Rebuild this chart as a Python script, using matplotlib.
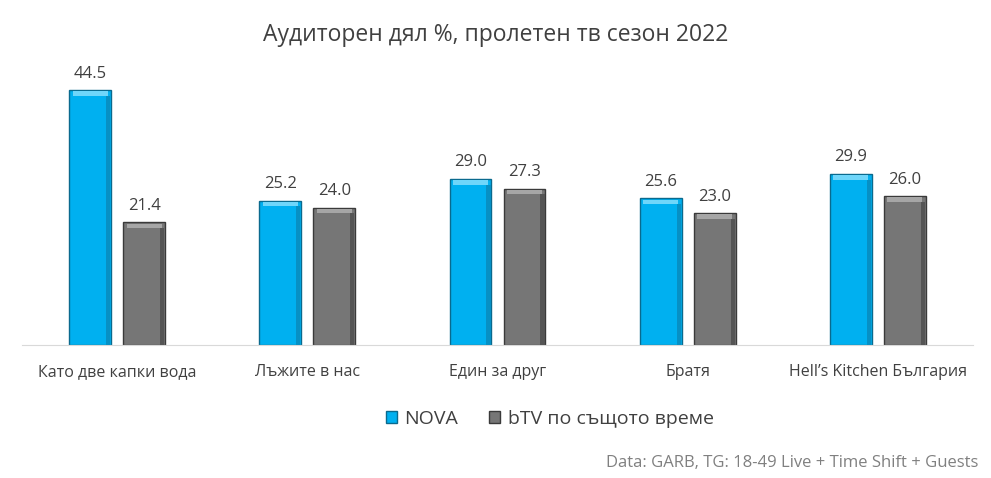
import numpy as np
import matplotlib.pyplot as plt

plt.rcParams['font.family'] = ['Open Sans', 'DejaVu Sans']

categories = ['Като две капки вода', 'Лъжите в нас', 'Един за друг', 'Братя',
              'Hell\u2019s Kitchen България']
nova = [44.5, 25.2, 29.0, 25.6, 29.9]
btv = [21.4, 24.0, 27.3, 23.0, 26.0]
series_names = ['NOVA', 'bTV по същото време']

title = 'Аудиторен дял %, пролетен тв сезон 2022'
source = 'Data: GARB, TG: 18-49 Live + Time Shift + Guests'

fig = plt.figure(figsize=(9.91, 4.78), dpi=100)
ax = fig.add_axes([0.0222, 0.2782, 0.9596, 0.575])

x = np.arange(len(categories))
w = 0.22
off = 0.142

b1 = ax.bar(x - off, nova, w, color='#00B0F0', edgecolor='#0a6a8e', linewidth=1.0,
            label=series_names[0])
b2 = ax.bar(x + off, btv, w, color='#767676', edgecolor='#3a3a3a', linewidth=1.0,
            label=series_names[1])

# fake bevel: light strip on top, darker strip on the right side
for bars, light, dark in [(b1, '#6fd6fa', '#0790c4'), (b2, '#a6a6a6', '#555555')]:
    for r in bars:
        cx = r.get_x() + r.get_width() / 2
        ax.bar(cx, 0.8, r.get_width() * 0.84, bottom=r.get_height() - 1.0,
               color=light, linewidth=0, zorder=3)
        ax.bar(r.get_x() + r.get_width() * 0.93, r.get_height() - 1.0,
               r.get_width() * 0.1, color=dark, linewidth=0, zorder=3)

for vals, xs in [(nova, x - off), (btv, x + off)]:
    for xi, v in zip(xs, vals):
        ax.text(xi, v + 1.5, f'{v:.1f}', ha='center', va='bottom',
                fontsize=12, color='#404040')

ax.set_xlim(-0.5, len(categories) - 0.5)
ax.set_ylim(0, 48)
ax.set_yticks([])
ax.set_xticks(x)
ax.set_xticklabels(categories, fontsize=11.5, color='#404040')
ax.tick_params(axis='x', length=0, pad=14)
for s in ['top', 'right', 'left']:
    ax.spines[s].set_visible(False)
ax.spines['bottom'].set_color('#d9d9d9')

fig.text(0.5, 0.927, title, ha='center', va='center', fontsize=16.5, color='#404040')

leg = fig.legend(handles=[b1, b2], loc='center', bbox_to_anchor=(0.555, 0.123), ncol=2,
                 frameon=False, fontsize=14, handlelength=0.55, handleheight=0.55,
                 columnspacing=1.6, handletextpad=0.4)
for t in leg.get_texts():
    t.set_color('#404040')

fig.text(0.987, 0.032, source, ha='right', va='center', fontsize=12, color='#808080')

fig.savefig('out.png', dpi=100)
